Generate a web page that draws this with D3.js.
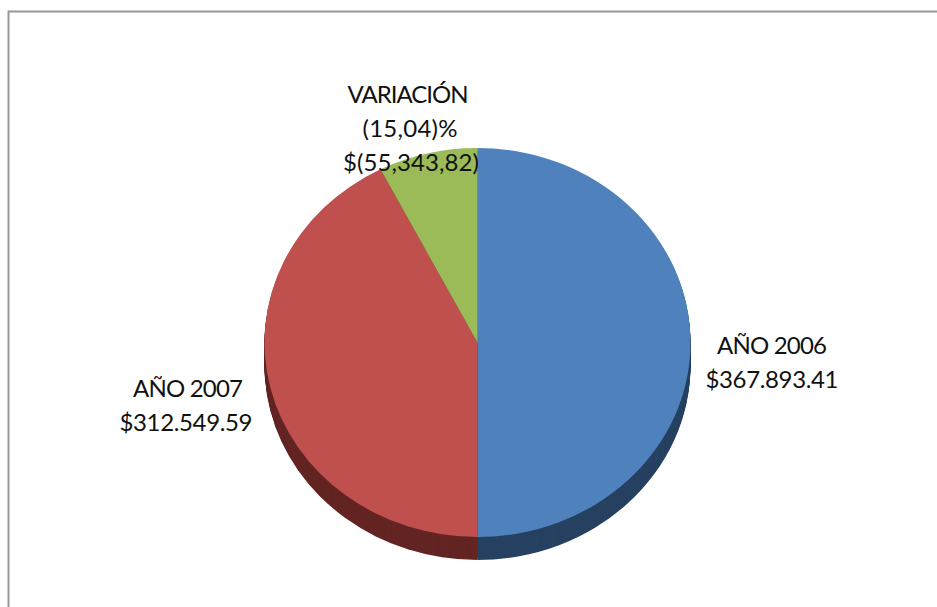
<!DOCTYPE html>
<html><head><meta charset="utf-8">
<script src="https://cdn.jsdelivr.net/npm/d3@7"></script>
<style>html,body{margin:0;background:#fff}svg{display:block}text{font-family:Lato,"Open Sans",sans-serif;fill:#111}</style>
</head><body><svg id="c" width="937" height="607"></svg>
<script>
const categories = ["AÑO 2006", "AÑO 2007", "VARIACIÓN"];
const seriesValues = [367893.41, 312549.59, 55343.82];
const labelLines = [["AÑO 2006","$367.893.41"],["AÑO 2007","$312.549.59"],["VARIACIÓN","(15,04)%","$(55,343,82)"]];
const labelBoxes = [[[772,354,110],[772,388,133]],[[188,397,110],[186,431,133]],[[408,103,121],[410,137,95],[411,171,136]]];
const colors = ["#4F81BD","#C0504D","#9BBB59"];
const sideColors = ["#274161","#632523","#4F6228"];

const W=937,H=607,cx=477.5,cy=342.5,rx=213,ry=194.5,depth=23;
const svg=d3.select("#c");
svg.append("path").attr("d",`M8.5 ${H}V11.5H${W}`).attr("fill","none").attr("stroke","#979797").attr("stroke-width",2);

const pie=d3.pie().sort(null).value(d=>d)(seriesValues);
const arc=d3.arc().innerRadius(0).outerRadius(rx);
const g=svg.append("g");
const layer=(dy,cols)=>g.append("g")
  .attr("transform",`translate(${cx},${cy+dy}) scale(1,${ry/rx})`)
  .selectAll("path").data(pie).join("path")
  .attr("d",arc).attr("fill",(d,i)=>cols[i]);
d3.range(depth,0,-1).forEach(dy=>layer(dy,sideColors));
layer(0,colors);

labelLines.forEach((lines,i)=>{
  lines.forEach((s,j)=>{
    const [x,y,w]=labelBoxes[i][j];
    svg.append("text").attr("text-anchor","middle").attr("font-size",24)
      .attr("x",x).attr("y",y).attr("textLength",w).attr("lengthAdjust","spacing").text(s);
  });
});
</script></body></html>
